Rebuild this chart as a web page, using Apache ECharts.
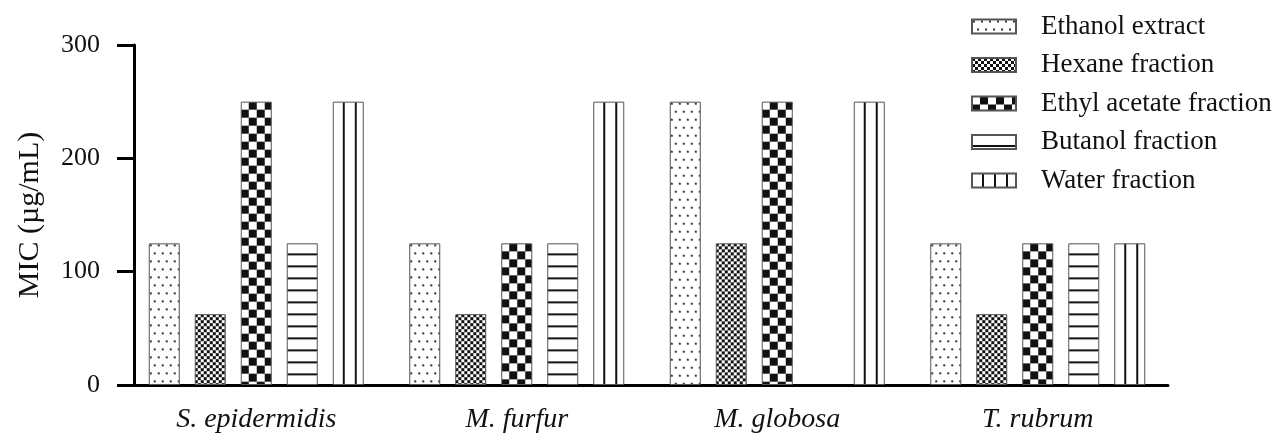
<!DOCTYPE html>
<html><head><meta charset="utf-8">
<script src="https://cdn.jsdelivr.net/npm/echarts@6/dist/echarts.min.js"></script>
<style>html,body{margin:0;padding:0;background:#fff}#c{width:1279px;height:443px}</style>
</head><body><div id="c"></div>
<script>
const categories = ['S. epidermidis', 'M. furfur', 'M. globosa', 'T. rubrum'];
const seriesNames = ['Ethanol extract', 'Hexane fraction', 'Ethyl acetate fraction', 'Butanol fraction', 'Water fraction'];
const ethanolExtract = [125, 125, 250, 125];
const hexaneFraction = [62.5, 62.5, 125, 62.5];
const ethylAcetateFraction = [250, 125, 250, 125];
const butanolFraction = [125, 125, null, 125];
const waterFraction = [250, 250, 250, 125];
const yTickValues = [0, 100, 200, 300];

const FONT = '"Liberation Serif", "Times New Roman", serif';
const BW = 31, GAP = 15;

function makeCanvas(w, h, draw) {
  const c = document.createElement('canvas');
  c.width = w; c.height = h;
  const g = c.getContext('2d');
  g.fillStyle = '#fff'; g.fillRect(0, 0, w, h);
  g.fillStyle = '#111';
  draw(g);
  return c;
}
const patterns = [
  makeCanvas(8, 16, g => { g.fillStyle = '#333'; g.fillRect(1, 1, 2, 2); g.fillRect(5, 9, 2, 2); }),
  makeCanvas(6, 6, g => { g.fillRect(0, 0, 3, 3); g.fillRect(3, 3, 3, 3); }),
  makeCanvas(16, 16, g => { g.fillRect(8, 0, 8, 8); g.fillRect(0, 8, 8, 8); }),
  makeCanvas(4, 12, g => { g.fillRect(0, 10, 4, 2); }),
  makeCanvas(12, 4, g => { g.fillRect(10, 0, 2, 4); })
];
const seriesData = [ethanolExtract, hexaneFraction, ethylAcetateFraction, butanolFraction, waterFraction];

const chart = echarts.init(document.getElementById('c'), null, { renderer: 'canvas' });

function buildSeries(withOffsets) {
  return seriesNames.map((name, s) => ({
    name: name,
    type: 'bar',
    barWidth: BW,
    barGap: (GAP / BW * 100) + '%',
    itemStyle: {
      color: { image: patterns[s], repeat: 'repeat' },
      borderColor: '#555',
      borderWidth: 1
    },
    data: seriesData[s].map((v, i) => {
      if (v == null) return '-';
      if (!withOffsets) return v;
      const p = chart.convertToPixel({ gridIndex: 0 }, [i, v]);
      const total = 5 * BW + 4 * GAP;
      const left = p[0] - total / 2 + s * (BW + GAP);
      return {
        value: v,
        itemStyle: { color: { image: patterns[s], repeat: 'repeat', x: left, y: p[1] } }
      };
    })
  }));
}

const option = {
  animation: false,
  backgroundColor: '#fff',
  grid: { left: 126, right: 111, top: 45, bottom: 58, containLabel: false },
  legend: {
    orient: 'vertical',
    left: 966,
    top: 8,
    itemWidth: 44,
    itemHeight: 14,
    itemGap: 11.5,
    icon: 'rect',
    data: seriesNames,
    textStyle: { fontFamily: FONT, fontSize: 27, color: '#111', padding: [0, 0, 0, 20] }
  },
  xAxis: {
    type: 'category',
    data: categories,
    axisLine: { lineStyle: { color: '#000', width: 3 } },
    axisTick: { alignWithLabel: true, length: 17, lineStyle: { color: '#000', width: 3 } },
    axisLabel: { fontFamily: FONT, fontStyle: 'italic', fontSize: 28, color: '#111', margin: 21 }
  },
  yAxis: {
    type: 'value',
    min: yTickValues[0],
    max: yTickValues[yTickValues.length - 1],
    interval: yTickValues[1] - yTickValues[0],
    offset: -8,
    name: 'MIC (µg/mL)',
    nameLocation: 'middle',
    nameGap: 89,
    nameTextStyle: { fontFamily: FONT, fontSize: 30, color: '#111' },
    axisLine: { show: true, lineStyle: { color: '#000', width: 3 } },
    axisTick: { show: true, length: 17, lineStyle: { color: '#000', width: 3 } },
    axisLabel: { fontFamily: FONT, fontSize: 26, color: '#111', margin: 34 },
    splitLine: { show: false }
  },
  series: buildSeries(false)
};
chart.setOption(option);
chart.setOption({ series: buildSeries(true) });
</script></body></html>
